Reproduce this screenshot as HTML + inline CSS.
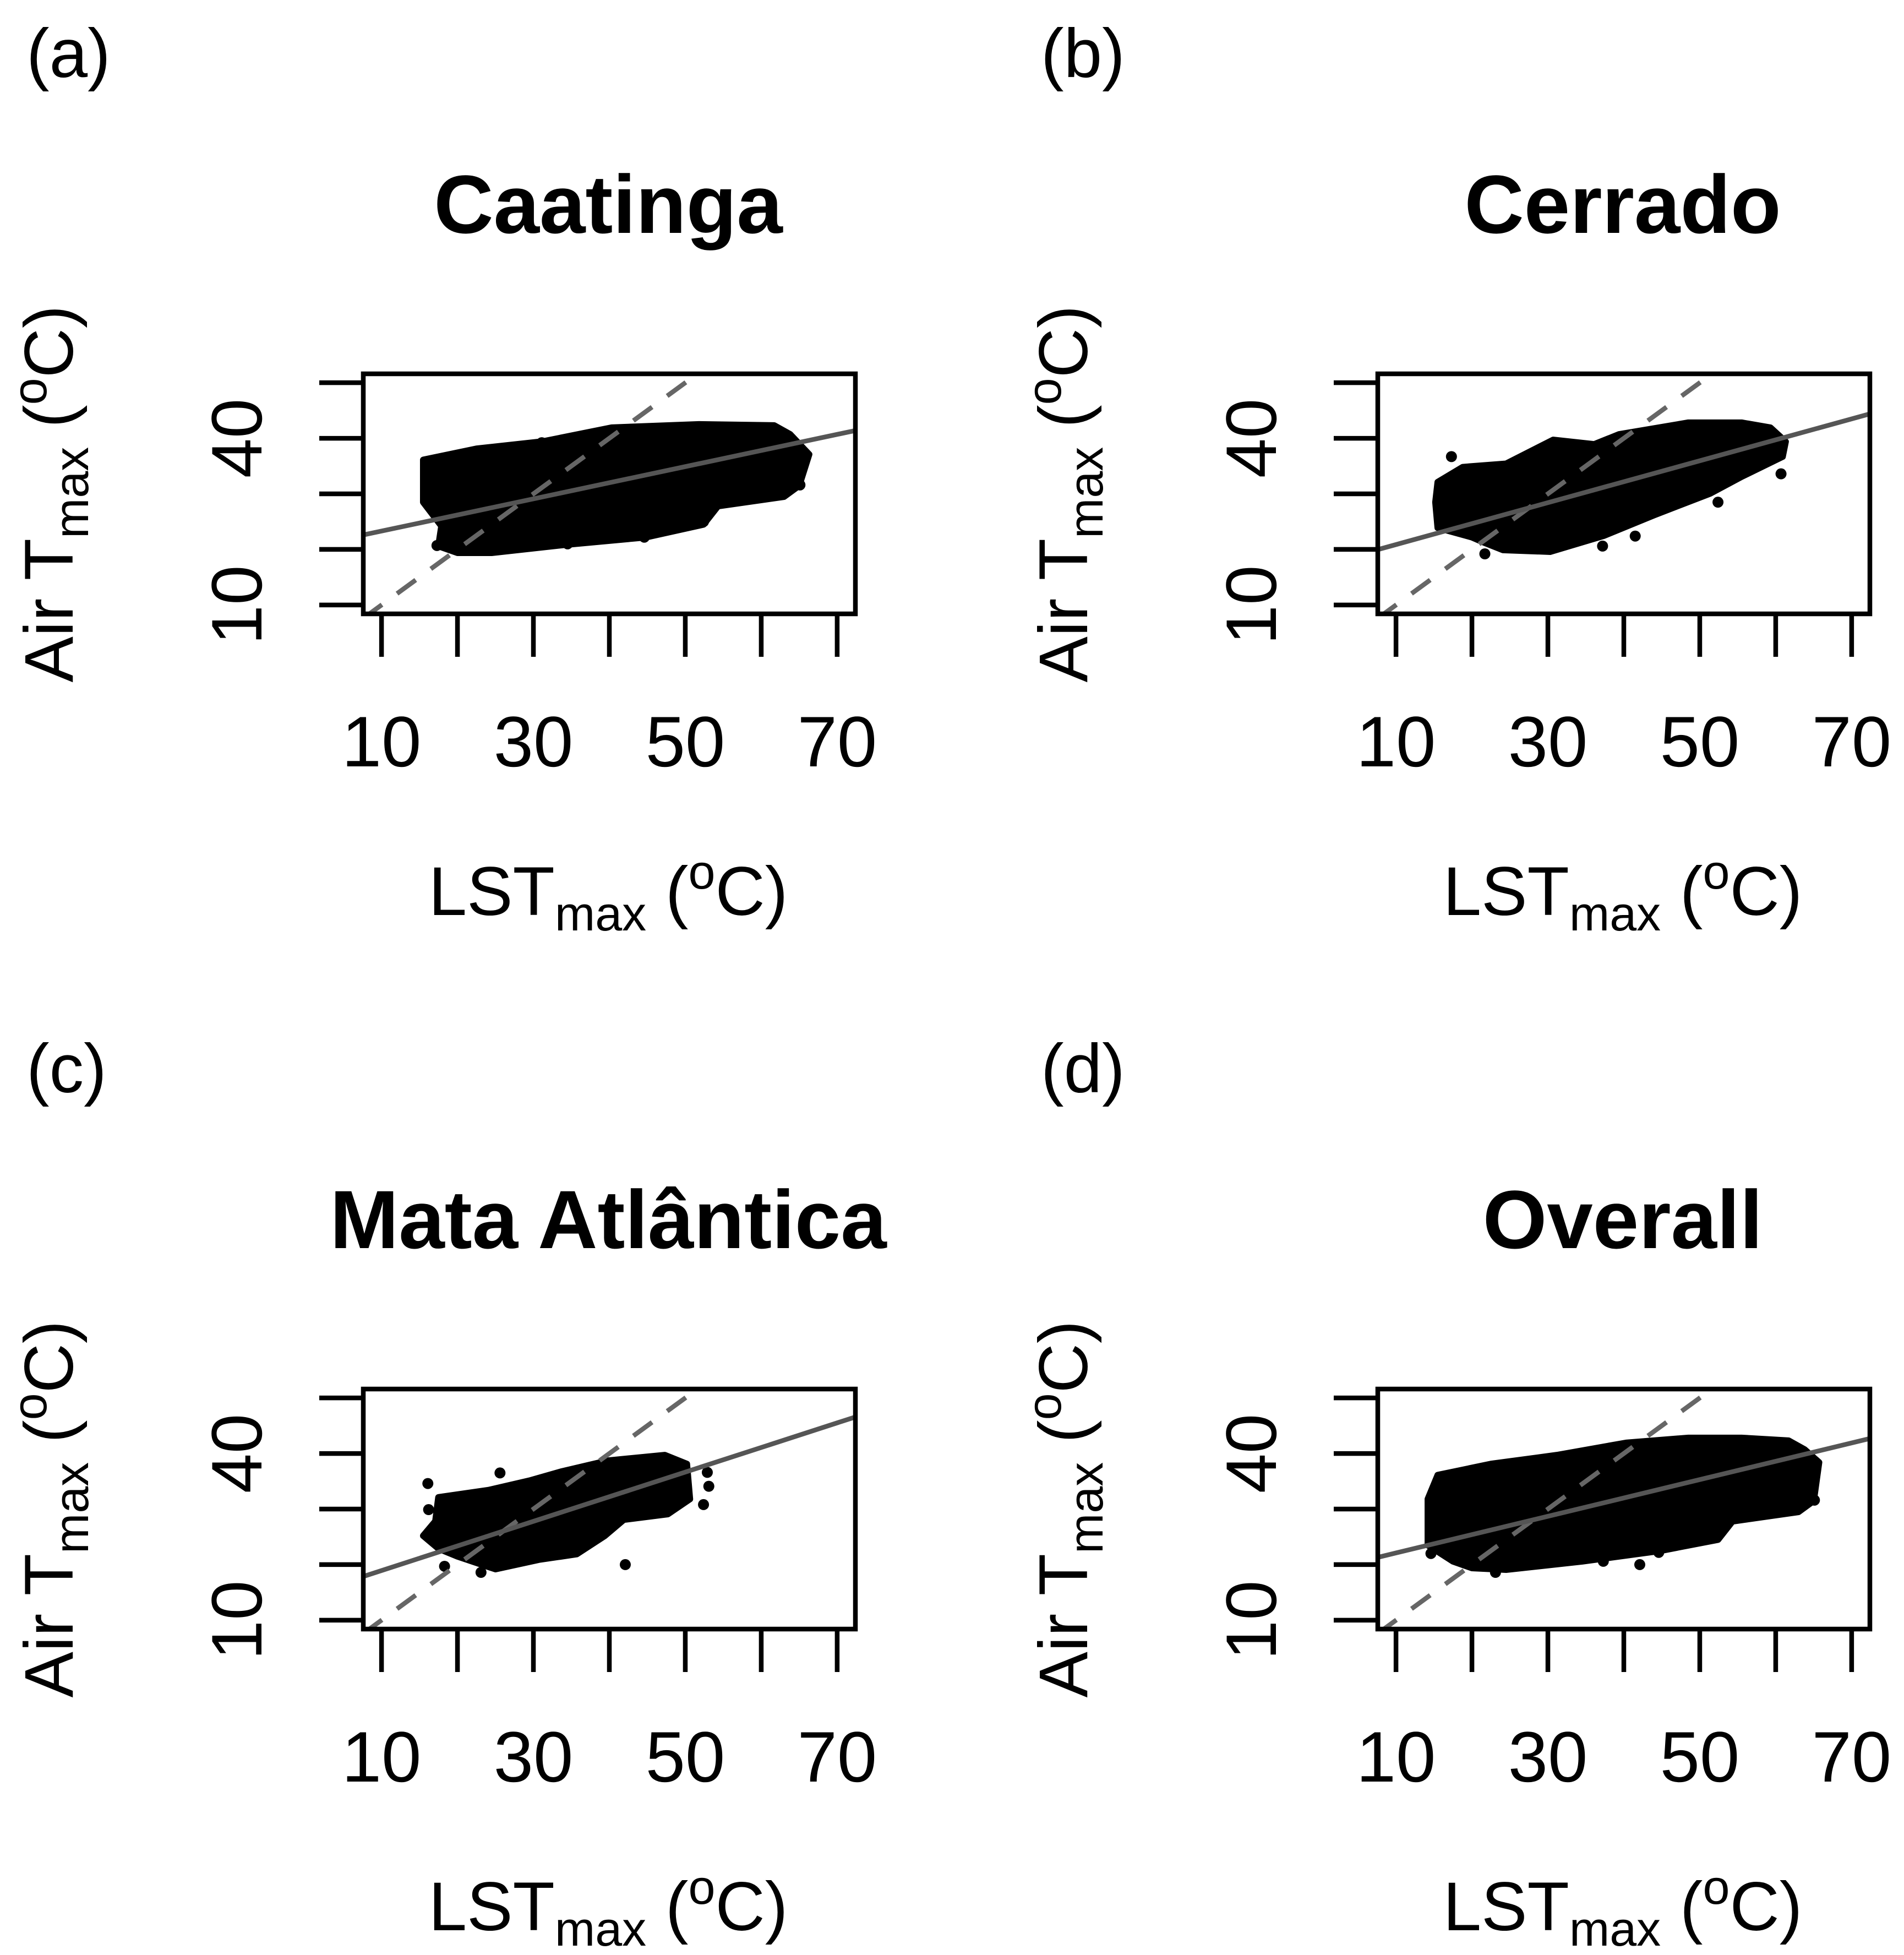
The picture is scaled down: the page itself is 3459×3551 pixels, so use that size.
<!DOCTYPE html>
<html><head><meta charset="utf-8">
<style>
html,body{margin:0;padding:0;background:#fff;}
svg{display:block;}
text{font-family:"Liberation Sans",Arial,sans-serif;fill:#000;}
</style></head>
<body>
<svg id="fig" xmlns="http://www.w3.org/2000/svg" width="3459" height="3551" viewBox="0 0 3459 3551"></svg>
<script>
// ---- data ----
const panelLetters = ["(a)","(b)","(c)","(d)"];
const panelTitles = ["Caatinga","Cerrado","Mata Atlântica","Overall"];
const xTicks = [10,20,30,40,50,60,70];
const xTickLabels = [10,30,50,70];
const yTicks = [10,20,30,40,50];
const yTickLabels = [10,40];
const fitIntercepts = [20.4,17.1,14.5,18.8];
const fitSlopes = [0.29,0.377,0.443,0.33];

const caatingaHullX = [15.5,22.5,31.2,40.3,51.8,61.7,63.8,66.3,65.0,63.0,54.3,52.4,44.8,34.5,24.5,20.0,17.5,17.9,15.5,15.5];
const caatingaHullY = [36.1,38.1,39.4,41.9,42.5,42.3,40.7,37.1,31.5,29.5,27.8,24.5,22.2,20.9,19.4,19.4,20.6,24.2,28.5,33.1];
const caatingaOutX = [31.1,17.3,44.6,65.1,52.4,34.5];
const caatingaOutY = [39.2,20.7,22.2,31.6,25.0,21.0];

const cerradoHullX = [15.5,18.8,24.5,30.7,36.1,39.4,48.5,55.5,59.3,61.3,60.9,55.5,51.4,44.0,37.4,30.3,24.1,21.7,20.0,15.5,15.2];
const cerradoHullY = [32.1,34.8,35.4,39.7,38.9,40.7,42.8,42.8,41.9,39.4,36.7,33.1,30.1,26.2,22.5,19.6,19.9,21.2,22.2,23.9,28.5];
const cerradoOutX = [17.3,21.7,60.7,52.4,41.5,37.2];
const cerradoOutY = [36.7,19.2,33.6,28.5,22.4,20.6];

const mataHullX = [17.5,24.1,29.5,33.6,39.8,47.3,50.2,50.6,47.7,41.9,39.4,35.7,30.7,25.0,20.0,17.5,15.5,17.1];
const mataHullY = [32.1,33.4,35.1,36.7,38.7,39.7,38.1,31.8,29.1,28.1,25.2,21.9,20.9,19.2,21.5,22.9,25.2,27.8];
const mataOutX = [16.1,25.6,16.2,53.1,52.4,42.1,23.1,18.3,52.9];
const mataOutY = [34.6,36.5,29.9,34.1,30.8,20.0,18.6,19.7,36.6];

const overallHullX = [14.2,15.5,22.5,31.2,40.3,48.5,55.5,61.7,63.8,65.7,65.0,63.0,54.3,52.4,44.8,34.5,24.5,20.0,17.5,14.2];
const overallHullY = [31.8,36.1,38.1,39.7,41.9,42.8,42.8,42.3,40.7,38.4,31.5,29.5,27.8,24.5,22.5,20.6,19.1,19.4,20.6,23.5];
const overallOutX = [14.6,23.1,42.1,44.6,65.1,37.3];
const overallOutY = [22.0,18.6,20.0,22.2,31.6,20.6];

const hullsX = [caatingaHullX,cerradoHullX,mataHullX,overallHullX];
const hullsY = [caatingaHullY,cerradoHullY,mataHullY,overallHullY];
const outsX = [caatingaOutX,cerradoOutX,mataOutX,overallOutX];
const outsY = [caatingaOutY,cerradoOutY,mataOutY,overallOutY];

// ---- layout ----
const NS = "http://www.w3.org/2000/svg";
const svg = document.getElementById("fig");
const BX0=660, BX1=1554, BY0=679, BY1=1115;
const XMIN=7.6, XMAX=72.4, YMIN=8.4, YMAX=51.6;
const offsets=[[0,0],[1843,0],[0,1844],[1843,1844]];
const names=["caatinga","cerrado","mata-atlantica","overall"];

function mk(tag, attrs, parent){
  const e=document.createElementNS(NS,tag);
  for(const k in attrs) e.setAttribute(k,attrs[k]);
  (parent||svg).appendChild(e);
  return e;
}

offsets.forEach(function(off,i){
  const ox=off[0], oy=off[1];
  const sx=function(v){return ox+BX0+(v-XMIN)/(XMAX-XMIN)*(BX1-BX0);};
  const sy=function(v){return oy+BY1-(v-YMIN)/(YMAX-YMIN)*(BY1-BY0);};
  const g=mk("g",{});
  
  

  const clipId="clip"+i;
  const cp=mk("clipPath",{id:clipId},g);
  mk("rect",{x:ox+BX0,y:oy+BY0,width:BX1-BX0,height:BY1-BY0},cp);

  const lt=mk("text",{x:ox+48,y:oy+140,"font-size":125},g);
  lt.textContent=panelLetters[i];
  
  

  const tt=mk("text",{x:ox+1105,y:oy+423,"font-size":150,"font-weight":"bold","text-anchor":"middle"},g);
  tt.textContent=panelTitles[i];
  
  

  const pts=hullsX[i].map(function(x,j){return sx(x)+","+sy(hullsY[i][j]);}).join(" ");
  const cloud=mk("polygon",{points:pts,fill:"#000",stroke:"#000","stroke-width":12,"stroke-linejoin":"round","clip-path":"url(#"+clipId+")"},g);
  
  
  outsX[i].forEach(function(x,j){
    const c=mk("circle",{cx:sx(x),cy:sy(outsY[i][j]),r:10,fill:"#000"},g);
    
    
  });

  const d=mk("line",{x1:sx(XMIN),y1:sy(XMIN),x2:sx(YMAX),y2:sy(YMAX),stroke:"#666","stroke-width":8.5,"stroke-dasharray":"42 34","clip-path":"url(#"+clipId+")"},g);
  
  

  const a=fitIntercepts[i], b=fitSlopes[i];
  const f=mk("line",{x1:sx(XMIN),y1:sy(a+b*XMIN),x2:sx(XMAX),y2:sy(a+b*XMAX),stroke:"#555","stroke-width":8.5,"clip-path":"url(#"+clipId+")"},g);
  
  

  const bx=mk("rect",{x:ox+BX0,y:oy+BY0,width:BX1-BX0,height:BY1-BY0,fill:"none",stroke:"#000","stroke-width":8.5},g);
  
  

  xTicks.forEach(function(v){
    const t=mk("line",{x1:sx(v),y1:oy+BY1,x2:sx(v),y2:oy+1193,stroke:"#000","stroke-width":8.5},g);
    
    
  });
  xTickLabels.forEach(function(v){
    const t=mk("text",{x:sx(v),y:oy+1392,"font-size":130,"text-anchor":"middle"},g);
    t.textContent=v;
    
    
  });
  yTicks.forEach(function(v){
    const t=mk("line",{x1:ox+580,y1:sy(v),x2:ox+BX0,y2:sy(v),stroke:"#000","stroke-width":8.5},g);
    
    
  });
  yTickLabels.forEach(function(v){
    const X=ox+475, Y=sy(v);
    const t=mk("text",{x:X,y:Y,"font-size":130,"text-anchor":"middle",transform:"rotate(-90 "+X+" "+Y+")"},g);
    t.textContent=v;
    
    
  });

  const xl=mk("text",{x:ox+1105,y:oy+1662,"font-size":125,"text-anchor":"middle"},g);
  xl.innerHTML='LST<tspan font-size="88" dy="28">max</tspan><tspan dy="-28"> (</tspan><tspan font-size="88" dy="-48">o</tspan><tspan dy="48">C)</tspan>';
  
  

  const YX=ox+132, YY=oy+897;
  const yl=mk("text",{x:YX,y:YY,"font-size":125,"text-anchor":"middle",transform:"rotate(-90 "+YX+" "+YY+")"},g);
  yl.innerHTML='Air T<tspan font-size="88" dy="28">max</tspan><tspan dy="-28"> (</tspan><tspan font-size="88" dy="-48">o</tspan><tspan dy="48">C)</tspan>';
  
  
});
</script>
</body></html>
